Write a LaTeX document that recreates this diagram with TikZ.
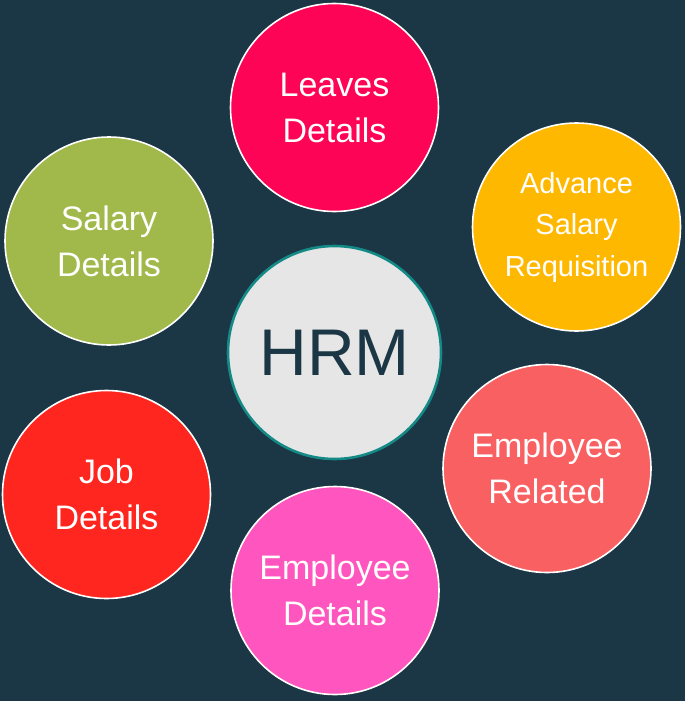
\documentclass[tikz,border=0pt]{standalone}
\usepackage{fontspec}
\usepackage{xcolor}
\setmainfont{Liberation Sans}

\definecolor{bgdark}{HTML}{1B3644}
\definecolor{hubgray}{HTML}{E6E6E6}
\definecolor{hubteal}{HTML}{138A85}
\definecolor{leavescol}{HTML}{FE0457}
\definecolor{advancecol}{HTML}{FFB800}
\definecolor{relatedcol}{HTML}{F96061}
\definecolor{empcol}{HTML}{FF55BE}
\definecolor{jobcol}{HTML}{FF2620}
\definecolor{salarycol}{HTML}{A0B94A}

\begin{document}
\begin{tikzpicture}[x=1pt, y=-1pt,
  bubble/.style={circle, draw=white, line width=1.6pt, minimum size=208pt, inner sep=0pt,
    text=white, align=center, font=\fontsize{34}{46}\selectfont},
  hub/.style={circle, draw=hubteal, fill=hubgray, line width=2.6pt, minimum size=213pt, inner sep=0pt,
    text=bgdark, font=\fontsize{66}{70}\selectfont}]
\fill[bgdark] (0,0) rectangle (685,701);

\node[hub] (hrm) at (334.5,352.5) {HRM};

\node[bubble, fill=leavescol] (leaves) at (334.5,107.5) {Leaves\\Details};
\node[bubble, fill=advancecol, font=\fontsize{29}{41.5}\selectfont] (advance) at (576.5,227) {Advance\\Salary\\Requisition};
\node[bubble, fill=relatedcol] (related) at (547,468.5) {Employee\\Related};
\node[bubble, fill=empcol] (empdetails) at (335,590.5) {Employee\\Details};
\node[bubble, fill=jobcol] (job) at (106.5,494.5) {Job\\Details};
\node[bubble, fill=salarycol] (salary) at (109,241) {Salary\\Details};

\end{tikzpicture}
\end{document}
